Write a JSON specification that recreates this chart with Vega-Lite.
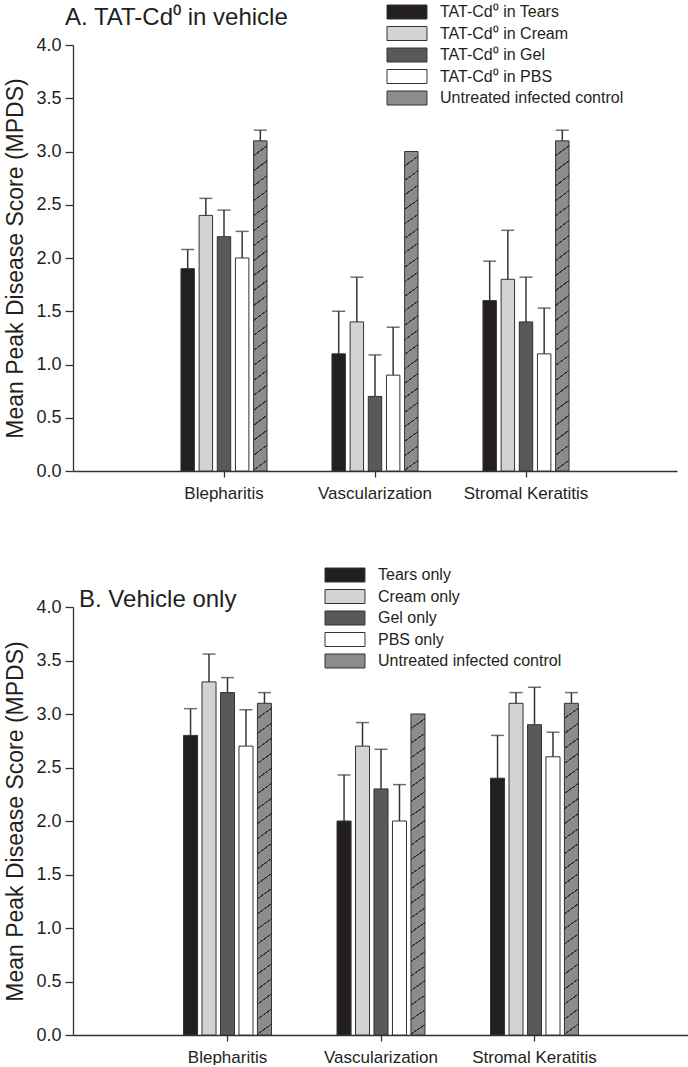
{
  "$schema": "https://vega.github.io/schema/vega-lite/v6.json",
  "padding": {"left": 4, "top": 4, "right": 0, "bottom": 0},
  "config": {
    "view": {"stroke": null},
    "font": "Liberation Sans",
    "axis": {"domainColor": "#333", "tickColor": "#333", "domainWidth": 1.3, "tickWidth": 1.3, "labelColor": "#231f20", "titleColor": "#231f20", "grid": false, "labelFont": "Liberation Sans", "titleFont": "Liberation Sans"},
    "legend": {"orient": "none", "padding": 0, "labelFontSize": 16, "labelLimit": 400, "labelColor": "#231f20", "labelFont": "Liberation Sans", "symbolType": "M-1,-1H4.71V1H-1Z", "symbolSize": 196, "symbolStrokeColor": "#333", "symbolStrokeWidth": 1, "labelOffset": 38, "rowPadding": 3.5, "title": null},
    "title": {"font": "Liberation Sans", "fontWeight": "normal", "color": "#231f20", "anchor": "start", "frame": "group"}
  },
  "datasets": {
    "a": [
      {"cat": "Blepharitis", "g": "TAT-Cd⁰ in Tears", "v": 1.9, "e": 2.08},
      {"cat": "Blepharitis", "g": "TAT-Cd⁰ in Cream", "v": 2.4, "e": 2.56},
      {"cat": "Blepharitis", "g": "TAT-Cd⁰ in Gel", "v": 2.2, "e": 2.45},
      {"cat": "Blepharitis", "g": "TAT-Cd⁰ in PBS", "v": 2.0, "e": 2.25},
      {"cat": "Blepharitis", "g": "Untreated infected control", "v": 3.1, "e": 3.2},
      {"cat": "Vascularization", "g": "TAT-Cd⁰ in Tears", "v": 1.1, "e": 1.5},
      {"cat": "Vascularization", "g": "TAT-Cd⁰ in Cream", "v": 1.4, "e": 1.82},
      {"cat": "Vascularization", "g": "TAT-Cd⁰ in Gel", "v": 0.7, "e": 1.09},
      {"cat": "Vascularization", "g": "TAT-Cd⁰ in PBS", "v": 0.9, "e": 1.35},
      {"cat": "Vascularization", "g": "Untreated infected control", "v": 3.0, "e": null},
      {"cat": "Stromal Keratitis", "g": "TAT-Cd⁰ in Tears", "v": 1.6, "e": 1.97},
      {"cat": "Stromal Keratitis", "g": "TAT-Cd⁰ in Cream", "v": 1.8, "e": 2.26},
      {"cat": "Stromal Keratitis", "g": "TAT-Cd⁰ in Gel", "v": 1.4, "e": 1.82},
      {"cat": "Stromal Keratitis", "g": "TAT-Cd⁰ in PBS", "v": 1.1, "e": 1.53},
      {"cat": "Stromal Keratitis", "g": "Untreated infected control", "v": 3.1, "e": 3.2}
    ],
    "b": [
      {"cat": "Blepharitis", "g": "Tears only", "v": 2.8, "e": 3.05},
      {"cat": "Blepharitis", "g": "Cream only", "v": 3.3, "e": 3.56},
      {"cat": "Blepharitis", "g": "Gel only", "v": 3.2, "e": 3.34},
      {"cat": "Blepharitis", "g": "PBS only", "v": 2.7, "e": 3.04},
      {"cat": "Blepharitis", "g": "Untreated infected control", "v": 3.1, "e": 3.2},
      {"cat": "Vascularization", "g": "Tears only", "v": 2.0, "e": 2.43},
      {"cat": "Vascularization", "g": "Cream only", "v": 2.7, "e": 2.92},
      {"cat": "Vascularization", "g": "Gel only", "v": 2.3, "e": 2.67},
      {"cat": "Vascularization", "g": "PBS only", "v": 2.0, "e": 2.34},
      {"cat": "Vascularization", "g": "Untreated infected control", "v": 3.0, "e": null},
      {"cat": "Stromal Keratitis", "g": "Tears only", "v": 2.4, "e": 2.8},
      {"cat": "Stromal Keratitis", "g": "Cream only", "v": 3.1, "e": 3.2},
      {"cat": "Stromal Keratitis", "g": "Gel only", "v": 2.9, "e": 3.25},
      {"cat": "Stromal Keratitis", "g": "PBS only", "v": 2.6, "e": 2.83},
      {"cat": "Stromal Keratitis", "g": "Untreated infected control", "v": 3.1, "e": 3.2}
    ]
  },
  "spacing": 66,
  "resolve": {"scale": {"fill": "independent", "x": "independent", "xOffset": "independent", "y": "independent"}, "legend": {"fill": "independent"}},
  "vconcat": [
    {
      "data": {"name": "a"},
      "width": 604,
      "height": 426,
      "title": {"text": "A. TAT-Cd⁰ in vehicle", "fontSize": 24, "dx": -8, "offset": -26},
      "encoding": {
        "x": {"field": "cat", "type": "nominal", "sort": ["Blepharitis", "Vascularization", "Stromal Keratitis"], "scale": {"paddingInner": 0.43, "paddingOuter": 0.715}, "axis": {"title": null, "labelAngle": 0, "tickSize": 6, "labelFontSize": 17, "labelPadding": 8}},
        "xOffset": {"field": "g", "type": "nominal", "sort": ["TAT-Cd⁰ in Tears", "TAT-Cd⁰ in Cream", "TAT-Cd⁰ in Gel", "TAT-Cd⁰ in PBS", "Untreated infected control"], "scale": {"paddingInner": 0.26, "paddingOuter": 0}}
      },
      "layer": [
        {
          "mark": {"type": "bar", "stroke": "#333", "strokeWidth": 1},
          "encoding": {
            "y": {"field": "v", "type": "quantitative", "scale": {"domain": [0, 4], "nice": false}, "axis": {"title": "Mean Peak Disease Score (MPDS)", "values": [0, 0.5, 1, 1.5, 2, 2.5, 3, 3.5, 4], "format": ".1f", "tickSize": 8, "labelFontSize": 18, "titleFontSize": 23, "titleFontWeight": "normal", "labelPadding": 4, "titlePadding": 8}},
            "fill": {
              "condition": {"test": "datum.g === 'Untreated infected control'", "value": {"gradient": "linear", "x1": 0, "y1": 0, "x2": 0.0316, "y2": 1.0297, "stops": [
                {"offset": 0, "color": "#8c8c8e"},
                {"offset": 0.042, "color": "#8c8c8e"}, {"offset": 0.042, "color": "#333"}, {"offset": 0.046, "color": "#333"}, {"offset": 0.046, "color": "#8c8c8e"},
                {"offset": 0.086, "color": "#8c8c8e"}, {"offset": 0.086, "color": "#333"}, {"offset": 0.090, "color": "#333"}, {"offset": 0.090, "color": "#8c8c8e"},
                {"offset": 0.130, "color": "#8c8c8e"}, {"offset": 0.130, "color": "#333"}, {"offset": 0.134, "color": "#333"}, {"offset": 0.134, "color": "#8c8c8e"},
                {"offset": 0.174, "color": "#8c8c8e"}, {"offset": 0.174, "color": "#333"}, {"offset": 0.178, "color": "#333"}, {"offset": 0.178, "color": "#8c8c8e"},
                {"offset": 0.218, "color": "#8c8c8e"}, {"offset": 0.218, "color": "#333"}, {"offset": 0.222, "color": "#333"}, {"offset": 0.222, "color": "#8c8c8e"},
                {"offset": 0.262, "color": "#8c8c8e"}, {"offset": 0.262, "color": "#333"}, {"offset": 0.266, "color": "#333"}, {"offset": 0.266, "color": "#8c8c8e"},
                {"offset": 0.306, "color": "#8c8c8e"}, {"offset": 0.306, "color": "#333"}, {"offset": 0.310, "color": "#333"}, {"offset": 0.310, "color": "#8c8c8e"},
                {"offset": 0.350, "color": "#8c8c8e"}, {"offset": 0.350, "color": "#333"}, {"offset": 0.354, "color": "#333"}, {"offset": 0.354, "color": "#8c8c8e"},
                {"offset": 0.394, "color": "#8c8c8e"}, {"offset": 0.394, "color": "#333"}, {"offset": 0.398, "color": "#333"}, {"offset": 0.398, "color": "#8c8c8e"},
                {"offset": 0.438, "color": "#8c8c8e"}, {"offset": 0.438, "color": "#333"}, {"offset": 0.442, "color": "#333"}, {"offset": 0.442, "color": "#8c8c8e"},
                {"offset": 0.482, "color": "#8c8c8e"}, {"offset": 0.482, "color": "#333"}, {"offset": 0.486, "color": "#333"}, {"offset": 0.486, "color": "#8c8c8e"},
                {"offset": 0.526, "color": "#8c8c8e"}, {"offset": 0.526, "color": "#333"}, {"offset": 0.530, "color": "#333"}, {"offset": 0.530, "color": "#8c8c8e"},
                {"offset": 0.570, "color": "#8c8c8e"}, {"offset": 0.570, "color": "#333"}, {"offset": 0.574, "color": "#333"}, {"offset": 0.574, "color": "#8c8c8e"},
                {"offset": 0.614, "color": "#8c8c8e"}, {"offset": 0.614, "color": "#333"}, {"offset": 0.618, "color": "#333"}, {"offset": 0.618, "color": "#8c8c8e"},
                {"offset": 0.658, "color": "#8c8c8e"}, {"offset": 0.658, "color": "#333"}, {"offset": 0.662, "color": "#333"}, {"offset": 0.662, "color": "#8c8c8e"},
                {"offset": 0.702, "color": "#8c8c8e"}, {"offset": 0.702, "color": "#333"}, {"offset": 0.706, "color": "#333"}, {"offset": 0.706, "color": "#8c8c8e"},
                {"offset": 0.746, "color": "#8c8c8e"}, {"offset": 0.746, "color": "#333"}, {"offset": 0.750, "color": "#333"}, {"offset": 0.750, "color": "#8c8c8e"},
                {"offset": 0.790, "color": "#8c8c8e"}, {"offset": 0.790, "color": "#333"}, {"offset": 0.794, "color": "#333"}, {"offset": 0.794, "color": "#8c8c8e"},
                {"offset": 0.834, "color": "#8c8c8e"}, {"offset": 0.834, "color": "#333"}, {"offset": 0.838, "color": "#333"}, {"offset": 0.838, "color": "#8c8c8e"},
                {"offset": 0.878, "color": "#8c8c8e"}, {"offset": 0.878, "color": "#333"}, {"offset": 0.882, "color": "#333"}, {"offset": 0.882, "color": "#8c8c8e"},
                {"offset": 0.922, "color": "#8c8c8e"}, {"offset": 0.922, "color": "#333"}, {"offset": 0.926, "color": "#333"}, {"offset": 0.926, "color": "#8c8c8e"},
                {"offset": 0.966, "color": "#8c8c8e"}, {"offset": 0.966, "color": "#333"}, {"offset": 0.970, "color": "#333"}, {"offset": 0.970, "color": "#8c8c8e"},
                {"offset": 1, "color": "#8c8c8e"}
              ]}},
              "field": "g", "type": "nominal",
              "scale": {"domain": ["TAT-Cd⁰ in Tears", "TAT-Cd⁰ in Cream", "TAT-Cd⁰ in Gel", "TAT-Cd⁰ in PBS", "Untreated infected control"], "range": ["#231f20", "#d1d3d4", "#58595b", "#ffffff", "#8c8c8e"]},
              "legend": {"legendX": 313, "legendY": -41}
            }
          }
        },
        {
          "transform": [{"filter": "datum.e != null"}],
          "mark": {"type": "rule", "color": "#333", "strokeWidth": 1.5},
          "encoding": {"y": {"field": "v", "type": "quantitative"}, "y2": {"field": "e"}}
        },
        {
          "transform": [{"filter": "datum.e != null"}],
          "mark": {"type": "tick", "color": "#333", "thickness": 1.5, "size": 13, "orient": "horizontal"},
          "encoding": {"y": {"field": "e", "type": "quantitative"}}
        }
      ]
    },
    {
      "data": {"name": "b"},
      "width": 616,
      "height": 428,
      "title": {"text": "B. Vehicle only", "fontSize": 24, "dx": 6, "offset": -45},
      "encoding": {
        "x": {"field": "cat", "type": "nominal", "sort": ["Blepharitis", "Vascularization", "Stromal Keratitis"], "scale": {"paddingInner": 0.427, "paddingOuter": 0.72}, "axis": {"title": null, "labelAngle": 0, "tickSize": 6, "labelFontSize": 17, "labelPadding": 8}},
        "xOffset": {"field": "g", "type": "nominal", "sort": ["Tears only", "Cream only", "Gel only", "PBS only", "Untreated infected control"], "scale": {"paddingInner": 0.24, "paddingOuter": 0}}
      },
      "layer": [
        {
          "mark": {"type": "bar", "stroke": "#333", "strokeWidth": 1},
          "encoding": {
            "y": {"field": "v", "type": "quantitative", "scale": {"domain": [0, 4], "nice": false}, "axis": {"title": "Mean Peak Disease Score (MPDS)", "values": [0, 0.5, 1, 1.5, 2, 2.5, 3, 3.5, 4], "format": ".1f", "tickSize": 8, "labelFontSize": 18, "titleFontSize": 23, "titleFontWeight": "normal", "labelPadding": 4, "titlePadding": 8}},
            "fill": {
              "condition": {"test": "datum.g === 'Untreated infected control'", "value": {"gradient": "linear", "x1": 0, "y1": 0, "x2": 0.0316, "y2": 1.0297, "stops": [
                {"offset": 0, "color": "#8c8c8e"},
                {"offset": 0.042, "color": "#8c8c8e"}, {"offset": 0.042, "color": "#333"}, {"offset": 0.046, "color": "#333"}, {"offset": 0.046, "color": "#8c8c8e"},
                {"offset": 0.086, "color": "#8c8c8e"}, {"offset": 0.086, "color": "#333"}, {"offset": 0.090, "color": "#333"}, {"offset": 0.090, "color": "#8c8c8e"},
                {"offset": 0.130, "color": "#8c8c8e"}, {"offset": 0.130, "color": "#333"}, {"offset": 0.134, "color": "#333"}, {"offset": 0.134, "color": "#8c8c8e"},
                {"offset": 0.174, "color": "#8c8c8e"}, {"offset": 0.174, "color": "#333"}, {"offset": 0.178, "color": "#333"}, {"offset": 0.178, "color": "#8c8c8e"},
                {"offset": 0.218, "color": "#8c8c8e"}, {"offset": 0.218, "color": "#333"}, {"offset": 0.222, "color": "#333"}, {"offset": 0.222, "color": "#8c8c8e"},
                {"offset": 0.262, "color": "#8c8c8e"}, {"offset": 0.262, "color": "#333"}, {"offset": 0.266, "color": "#333"}, {"offset": 0.266, "color": "#8c8c8e"},
                {"offset": 0.306, "color": "#8c8c8e"}, {"offset": 0.306, "color": "#333"}, {"offset": 0.310, "color": "#333"}, {"offset": 0.310, "color": "#8c8c8e"},
                {"offset": 0.350, "color": "#8c8c8e"}, {"offset": 0.350, "color": "#333"}, {"offset": 0.354, "color": "#333"}, {"offset": 0.354, "color": "#8c8c8e"},
                {"offset": 0.394, "color": "#8c8c8e"}, {"offset": 0.394, "color": "#333"}, {"offset": 0.398, "color": "#333"}, {"offset": 0.398, "color": "#8c8c8e"},
                {"offset": 0.438, "color": "#8c8c8e"}, {"offset": 0.438, "color": "#333"}, {"offset": 0.442, "color": "#333"}, {"offset": 0.442, "color": "#8c8c8e"},
                {"offset": 0.482, "color": "#8c8c8e"}, {"offset": 0.482, "color": "#333"}, {"offset": 0.486, "color": "#333"}, {"offset": 0.486, "color": "#8c8c8e"},
                {"offset": 0.526, "color": "#8c8c8e"}, {"offset": 0.526, "color": "#333"}, {"offset": 0.530, "color": "#333"}, {"offset": 0.530, "color": "#8c8c8e"},
                {"offset": 0.570, "color": "#8c8c8e"}, {"offset": 0.570, "color": "#333"}, {"offset": 0.574, "color": "#333"}, {"offset": 0.574, "color": "#8c8c8e"},
                {"offset": 0.614, "color": "#8c8c8e"}, {"offset": 0.614, "color": "#333"}, {"offset": 0.618, "color": "#333"}, {"offset": 0.618, "color": "#8c8c8e"},
                {"offset": 0.658, "color": "#8c8c8e"}, {"offset": 0.658, "color": "#333"}, {"offset": 0.662, "color": "#333"}, {"offset": 0.662, "color": "#8c8c8e"},
                {"offset": 0.702, "color": "#8c8c8e"}, {"offset": 0.702, "color": "#333"}, {"offset": 0.706, "color": "#333"}, {"offset": 0.706, "color": "#8c8c8e"},
                {"offset": 0.746, "color": "#8c8c8e"}, {"offset": 0.746, "color": "#333"}, {"offset": 0.750, "color": "#333"}, {"offset": 0.750, "color": "#8c8c8e"},
                {"offset": 0.790, "color": "#8c8c8e"}, {"offset": 0.790, "color": "#333"}, {"offset": 0.794, "color": "#333"}, {"offset": 0.794, "color": "#8c8c8e"},
                {"offset": 0.834, "color": "#8c8c8e"}, {"offset": 0.834, "color": "#333"}, {"offset": 0.838, "color": "#333"}, {"offset": 0.838, "color": "#8c8c8e"},
                {"offset": 0.878, "color": "#8c8c8e"}, {"offset": 0.878, "color": "#333"}, {"offset": 0.882, "color": "#333"}, {"offset": 0.882, "color": "#8c8c8e"},
                {"offset": 0.922, "color": "#8c8c8e"}, {"offset": 0.922, "color": "#333"}, {"offset": 0.926, "color": "#333"}, {"offset": 0.926, "color": "#8c8c8e"},
                {"offset": 0.966, "color": "#8c8c8e"}, {"offset": 0.966, "color": "#333"}, {"offset": 0.970, "color": "#333"}, {"offset": 0.970, "color": "#8c8c8e"},
                {"offset": 1, "color": "#8c8c8e"}
              ]}},
              "field": "g", "type": "nominal",
              "scale": {"domain": ["Tears only", "Cream only", "Gel only", "PBS only", "Untreated infected control"], "range": ["#231f20", "#d1d3d4", "#58595b", "#ffffff", "#8c8c8e"]},
              "legend": {"legendX": 251, "legendY": -40}
            }
          }
        },
        {
          "transform": [{"filter": "datum.e != null"}],
          "mark": {"type": "rule", "color": "#333", "strokeWidth": 1.5},
          "encoding": {"y": {"field": "v", "type": "quantitative"}, "y2": {"field": "e"}}
        },
        {
          "transform": [{"filter": "datum.e != null"}],
          "mark": {"type": "tick", "color": "#333", "thickness": 1.5, "size": 13, "orient": "horizontal"},
          "encoding": {"y": {"field": "e", "type": "quantitative"}}
        }
      ]
    }
  ]
}
